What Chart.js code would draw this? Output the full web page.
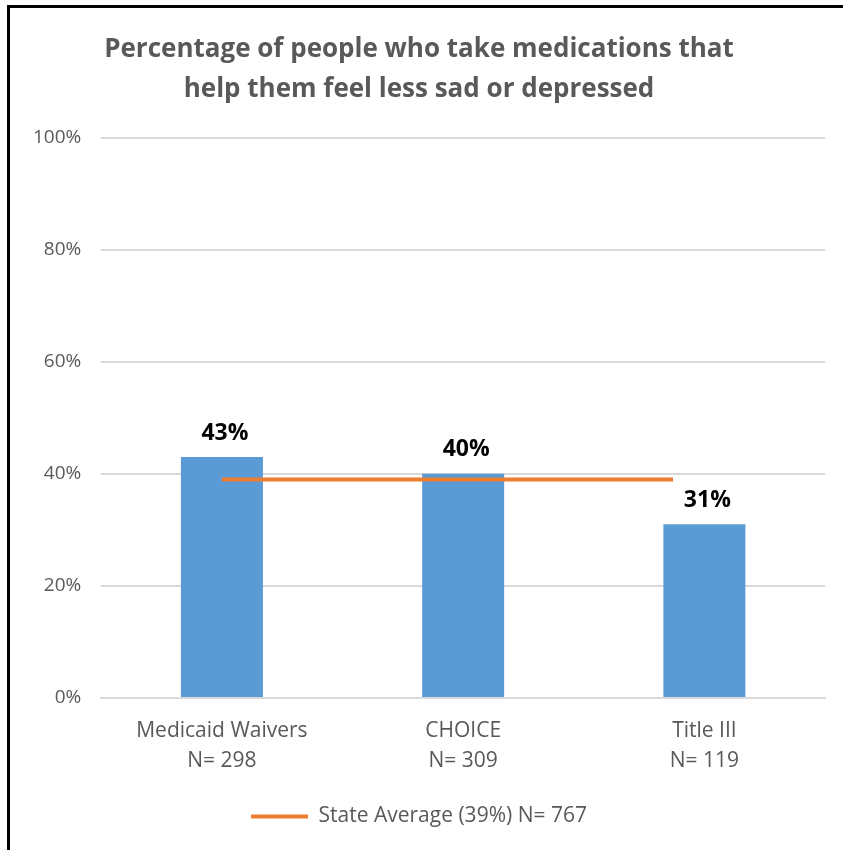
<!DOCTYPE html>
<html lang="en">
<head>
  <meta charset="UTF-8" />
  <title>Medications chart</title>
  <script src="https://cdn.jsdelivr.net/npm/chart.js"></script>
  <style>
    html, body { margin: 0; padding: 0; background: #fff; }
    .frame {
      position: absolute; left: 0; top: 0; width: 843px; height: 850px;
      overflow: hidden;
    }
    .edge-top { position: absolute; left: 7px; top: 5px; width: 836px; height: 3px; background: #000; }
    .edge-left { position: absolute; left: 7px; top: 5px; width: 3px; height: 845px; background: #000; }
    .chart-box { position: absolute; left: 10px; top: 8px; width: 833px; height: 842px; }
  </style>
</head>
<body>
  <div class="frame">
    <div class="edge-top"></div>
    <div class="edge-left"></div>
    <div class="chart-box"><canvas id="medChart"></canvas></div>
  </div>

  <script>
    // chart values
    const categories = [['Medicaid Waivers', 'N= 298'], ['CHOICE', 'N= 309'], ['Title III', 'N= 119']];
    const percentages = [43, 40, 31];
    const averageLabel = 'State Average (39%) N= 767';
    const averageValue = 39;
    // the average line runs from the first bar centre to just short of the last one
    const averageSpan = [0, 1.87];
    const titleLines = ['Percentage of people who take medications that', 'help them feel less sad or depressed'];

    const FONT = "'Open Sans', 'DejaVu Sans', sans-serif";

    // bold value labels above each bar
    const barLabels = {
      id: 'barLabels',
      afterDatasetsDraw(chart) {
        const ctx = chart.ctx;
        const meta = chart.getDatasetMeta(0);
        ctx.save();
        ctx.font = "bold 23px " + FONT;
        ctx.fillStyle = '#000';
        ctx.textAlign = 'center';
        ctx.textBaseline = 'middle';
        meta.data.forEach((bar, i) => {
          ctx.fillText(percentages[i] + '%', bar.x + 3, bar.y - 24);
        });
        ctx.restore();
      }
    };

    const ctx = document.getElementById('medChart').getContext('2d');
    new Chart(ctx, {
      type: 'bar',
      data: {
        labels: categories,
        datasets: [
          {
            label: 'Percentage',
            data: percentages,
            backgroundColor: '#5b9bd5',
            grouped: false,
            categoryPercentage: 1,
            barPercentage: 0.34,
            order: 2
          },
          {
            type: 'line',
            label: averageLabel,
            data: averageSpan.map(x => ({ x: x, y: averageValue })),
            xAxisID: 'xLine',
            borderColor: '#ed7d31',
            backgroundColor: '#ed7d31',
            borderWidth: 4,
            pointRadius: 0,
            order: 1
          }
        ]
      },
      options: {
        responsive: true,
        maintainAspectRatio: false,
        animation: false,
        layout: { padding: { left: 3, right: 18, top: 0, bottom: 13 } },
        plugins: {
          title: {
            display: true,
            text: titleLines,
            color: '#595959',
            font: { family: FONT, size: 26, weight: 'bold', lineHeight: 1.55 },
            padding: { top: 21, bottom: 28 }
          },
          legend: {
            position: 'bottom',
            labels: {
              filter: item => item.datasetIndex === 1,
              boxWidth: 57,
              boxHeight: 4,
              color: '#595959',
              font: { family: FONT, size: 21 },
              padding: 12,
              generateLabels: chart => [{
                text: averageLabel,
                fillStyle: '#ed7d31',
                strokeStyle: '#ed7d31',
                lineWidth: 0,
                datasetIndex: 1,
                fontColor: '#595959'
              }]
            }
          },
          tooltip: { enabled: false }
        },
        scales: {
          x: {
            grid: { display: false, drawTicks: false },
            border: { display: true, color: '#d9d9d9', width: 2 },
            ticks: {
              color: '#595959',
              font: { family: FONT, size: 21, lineHeight: 1.43 },
              padding: 18
            }
          },
          xLine: {
            type: 'linear',
            display: false,
            offset: false,
            min: -0.5,
            max: 2.5
          },
          y: {
            min: 0,
            max: 100,
            ticks: {
              stepSize: 20,
              callback: v => v + '%',
              color: '#595959',
              font: { family: FONT, size: 19 },
              padding: 20
            },
            grid: { color: '#d9d9d9', lineWidth: 2, drawTicks: false },
            border: { display: false }
          }
        }
      },
      plugins: [barLabels]
    });
  </script>
</body>
</html>
